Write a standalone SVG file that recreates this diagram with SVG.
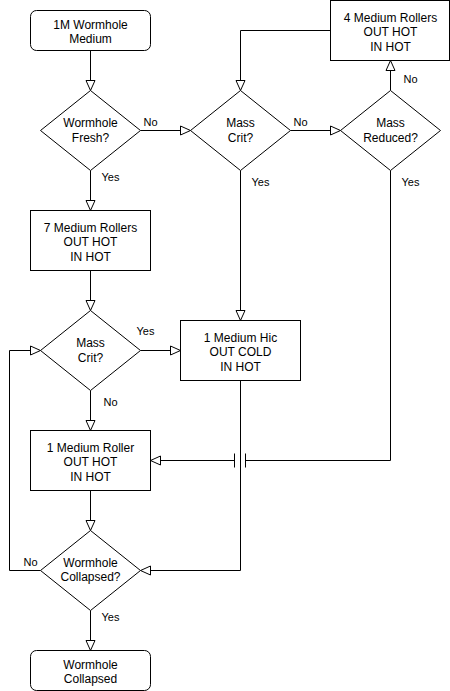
<svg xmlns="http://www.w3.org/2000/svg" width="450" height="691" viewBox="0 0 450 691">
<defs>
<marker id="arr" markerUnits="userSpaceOnUse" markerWidth="12" markerHeight="12" viewBox="-1 -1 12 12" refX="10" refY="4.5" orient="auto">
<path d="M0,0 L10,4.5 L0,9 Z" fill="#fff" stroke="#000" stroke-width="1"/>
</marker>
<style>
.n{fill:#fff;stroke:#000;stroke-width:1}
.t{font-family:"Liberation Sans",Arial,Helvetica,sans-serif;font-size:12px;fill:#000;text-anchor:middle}
.l{font-family:"Liberation Sans",Arial,Helvetica,sans-serif;font-size:11px;fill:#000;text-anchor:middle}
.c{fill:none;stroke:#000;stroke-width:1}
</style>
</defs>
<rect width="450" height="691" fill="#fff"/>
<g transform="translate(0.5,0.5)">
<g id="connectors">
<path class="c" d="M90,50 V90" marker-end="url(#arr)"/>
<path class="c" d="M140,130 H190" marker-end="url(#arr)"/>
<path class="c" d="M290,130 H340" marker-end="url(#arr)"/>
<path class="c" d="M390,90 V60" marker-end="url(#arr)"/>
<path class="c" d="M330,30 H240 V90" marker-end="url(#arr)"/>
<path class="c" d="M90,170 V210" marker-end="url(#arr)"/>
<path class="c" d="M240,170 V320" marker-end="url(#arr)"/>
<path class="c" d="M90,270 V310" marker-end="url(#arr)"/>
<path class="c" d="M140,350 H180" marker-end="url(#arr)"/>
<path class="c" d="M90,390 V430" marker-end="url(#arr)"/>
<path class="c" d="M390,170 V460 H245 M245,453 V467 M234,453 V467"/>
<path class="c" d="M234,460 H150" marker-end="url(#arr)"/>
<path class="c" d="M90,490 V530" marker-end="url(#arr)"/>
<path class="c" d="M240,380 V570 H140" marker-end="url(#arr)"/>
<path class="c" d="M40,570 H9 V350 H40" marker-end="url(#arr)"/>
<path class="c" d="M90,610 V650" marker-end="url(#arr)"/>
<text class="l" x="150" y="125">No</text>
<text class="l" x="300" y="125">No</text>
<text class="l" x="410" y="82">No</text>
<text class="l" x="110" y="180">Yes</text>
<text class="l" x="260" y="185">Yes</text>
<text class="l" x="410" y="185">Yes</text>
<text class="l" x="145" y="334">Yes</text>
<text class="l" x="110" y="405">No</text>
<text class="l" x="30" y="565">No</text>
<text class="l" x="110" y="620">Yes</text>
</g>
<g id="start">
<rect class="n" x="30" y="10" width="120" height="40" rx="6"/>
<text class="t" x="90" y="28">1M Wormhole</text>
<text class="t" x="90" y="42.5">Medium</text>
</g>
<g id="fresh">
<path class="n" d="M90,90 L140,130 L90,170 L40,130 Z"/>
<text class="t" x="90" y="126.5">Wormhole</text>
<text class="t" x="90" y="141">Fresh?</text>
</g>
<g id="masscrit1">
<path class="n" d="M240,90 L290,130 L240,170 L190,130 Z"/>
<text class="t" x="240" y="126.5">Mass</text>
<text class="t" x="240" y="141">Crit?</text>
</g>
<g id="massreduced">
<path class="n" d="M390,90 L440,130 L390,170 L340,130 Z"/>
<text class="t" x="390" y="126.5">Mass</text>
<text class="t" x="390" y="141">Reduced?</text>
</g>
<g id="rollers4">
<rect class="n" x="330" y="0" width="119" height="60"/>
<text class="t" x="390" y="21">4 Medium Rollers</text>
<text class="t" x="390" y="35.5">OUT HOT</text>
<text class="t" x="390" y="50">IN HOT</text>
</g>
<g id="rollers7">
<rect class="n" x="30" y="210" width="120" height="60"/>
<text class="t" x="90" y="231">7 Medium Rollers</text>
<text class="t" x="90" y="245.5">OUT HOT</text>
<text class="t" x="90" y="260">IN HOT</text>
</g>
<g id="masscrit2">
<path class="n" d="M90,310 L140,350 L90,390 L40,350 Z"/>
<text class="t" x="90" y="346">Mass</text>
<text class="t" x="90" y="361">Crit?</text>
</g>
<g id="hic">
<rect class="n" x="180" y="320" width="120" height="60"/>
<text class="t" x="240" y="341">1 Medium Hic</text>
<text class="t" x="240" y="355.5">OUT COLD</text>
<text class="t" x="240" y="370">IN HOT</text>
</g>
<g id="roller1">
<rect class="n" x="30" y="430" width="120" height="60"/>
<text class="t" x="90" y="451">1 Medium Roller</text>
<text class="t" x="90" y="465.5">OUT HOT</text>
<text class="t" x="90" y="480">IN HOT</text>
</g>
<g id="collapsedq">
<path class="n" d="M90,530 L140,570 L90,610 L40,570 Z"/>
<text class="t" x="90" y="566">Wormhole</text>
<text class="t" x="90" y="580.5">Collapsed?</text>
</g>
<g id="end">
<rect class="n" x="30" y="650" width="120" height="40" rx="6"/>
<text class="t" x="90" y="668">Wormhole</text>
<text class="t" x="90" y="682.5">Collapsed</text>
</g>
</g>
</svg>
